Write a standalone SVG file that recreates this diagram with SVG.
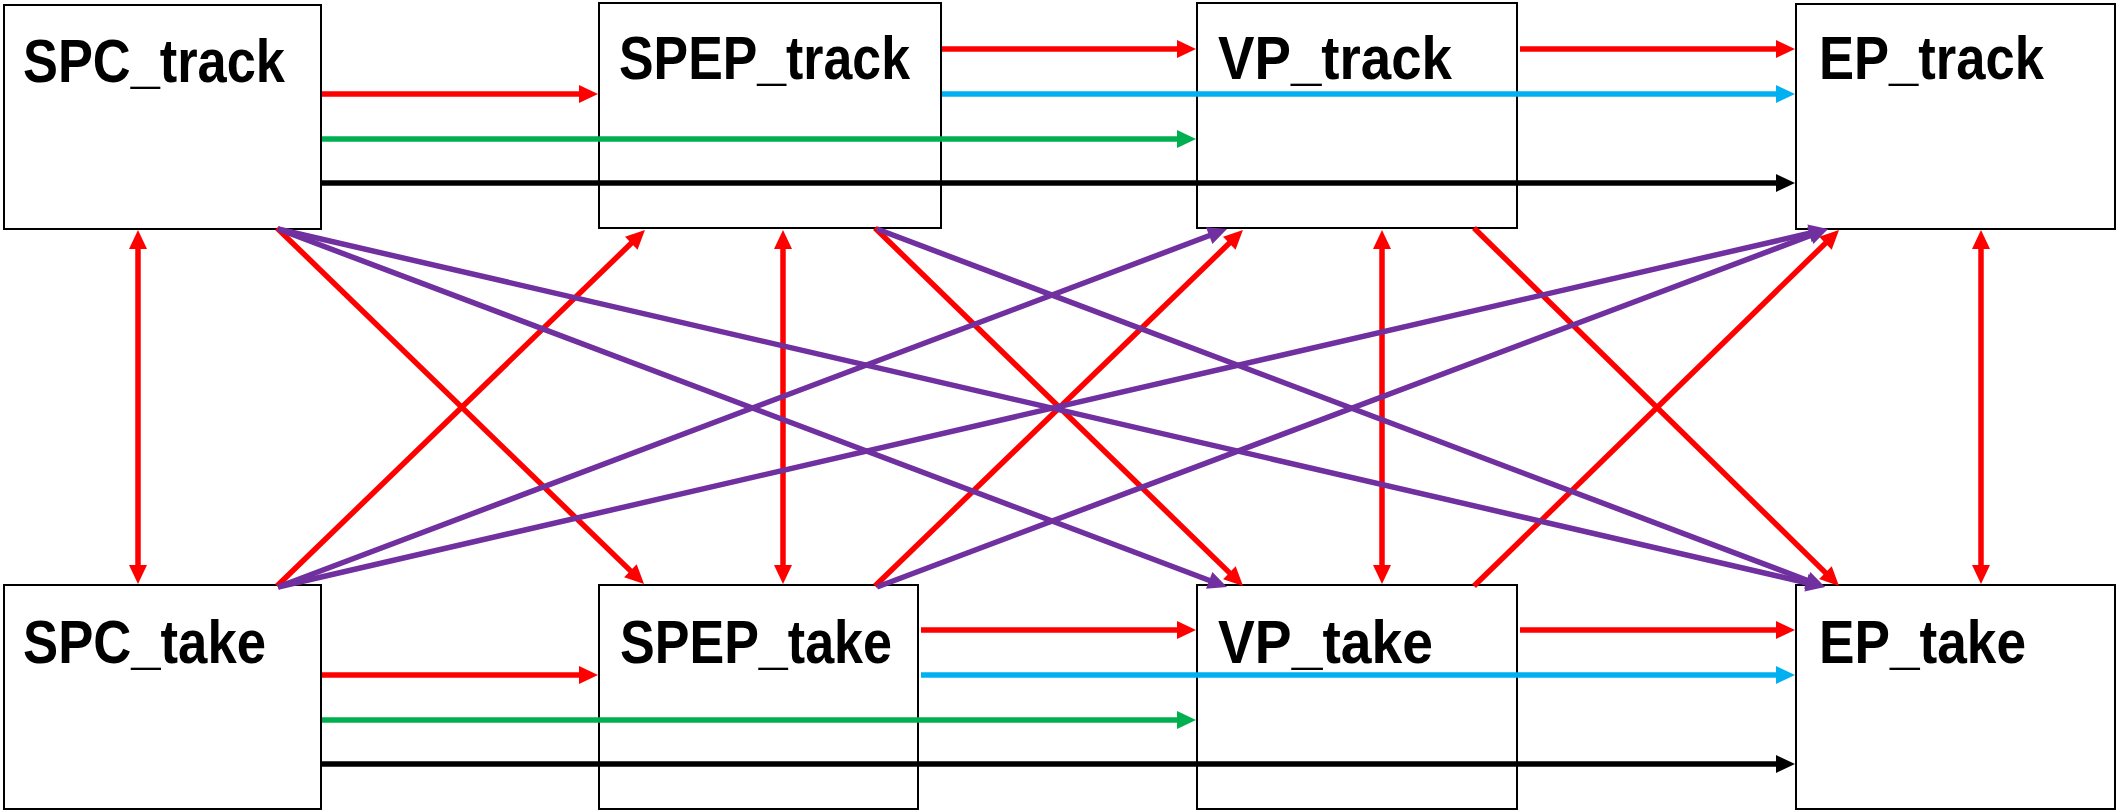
<svg xmlns="http://www.w3.org/2000/svg" width="2117" height="812" viewBox="0 0 2117 812">
  <style>
    .box { fill: #ffffff; stroke: #000000; stroke-width: 2; }
    .lbl { font-family: "Liberation Sans", Arial, sans-serif; font-weight: bold; font-size: 62px; fill: #000000; }
    .c { fill: none; stroke-width: 5.5; }
    .red { stroke: #ff0000; marker-end: url(#ah-red); }
    .redd { stroke: #ff0000; marker-start: url(#ah-red); marker-end: url(#ah-red); }
    .green { stroke: #00b050; marker-end: url(#ah-green); }
    .blue { stroke: #00b0f0; marker-end: url(#ah-blue); }
    .black { stroke: #000000; marker-end: url(#ah-black); }
    .purple { stroke: #7030a0; marker-end: url(#ah-purple); }
  </style>
  <defs>
    <marker id="ah-red" markerUnits="userSpaceOnUse" markerWidth="19" markerHeight="18" refX="11" refY="9" orient="auto-start-reverse" overflow="visible">
      <path d="M0,0 L19,9 L0,18 Z" fill="#ff0000"/>
    </marker>
    <marker id="ah-green" markerUnits="userSpaceOnUse" markerWidth="19" markerHeight="18" refX="11" refY="9" orient="auto" overflow="visible">
      <path d="M0,0 L19,9 L0,18 Z" fill="#00b050"/>
    </marker>
    <marker id="ah-blue" markerUnits="userSpaceOnUse" markerWidth="19" markerHeight="18" refX="11" refY="9" orient="auto" overflow="visible">
      <path d="M0,0 L19,9 L0,18 Z" fill="#00b0f0"/>
    </marker>
    <marker id="ah-black" markerUnits="userSpaceOnUse" markerWidth="19" markerHeight="18" refX="11" refY="9" orient="auto" overflow="visible">
      <path d="M0,0 L19,9 L0,18 Z" fill="#000000"/>
    </marker>
    <marker id="ah-purple" markerUnits="userSpaceOnUse" markerWidth="19" markerHeight="18" refX="11" refY="9" orient="auto" overflow="visible">
      <path d="M0,0 L19,9 L0,18 Z" fill="#7030a0"/>
    </marker>
  </defs>

  <rect width="2117" height="812" fill="#ffffff"/>

  <!-- top row: tracking stages -->
  <g id="spc_track">
    <rect class="box" x="4" y="5" width="317" height="224"/>
    <text class="lbl" x="23" y="82" textLength="262" lengthAdjust="spacingAndGlyphs">SPC_track</text>
  </g>
  <g id="spep_track">
    <rect class="box" x="599" y="3" width="342" height="225"/>
    <text class="lbl" x="619" y="79" textLength="291" lengthAdjust="spacingAndGlyphs">SPEP_track</text>
  </g>
  <g id="vp_track">
    <rect class="box" x="1197" y="3" width="320" height="225"/>
    <text class="lbl" x="1218" y="79" textLength="234" lengthAdjust="spacingAndGlyphs">VP_track</text>
  </g>
  <g id="ep_track">
    <rect class="box" x="1796" y="4" width="319" height="225"/>
    <text class="lbl" x="1819" y="79" textLength="225" lengthAdjust="spacingAndGlyphs">EP_track</text>
  </g>

  <!-- bottom row: take stages -->
  <g id="spc_take">
    <rect class="box" x="4" y="585" width="317" height="224"/>
    <text class="lbl" x="23" y="663" textLength="243" lengthAdjust="spacingAndGlyphs">SPC_take</text>
  </g>
  <g id="spep_take">
    <rect class="box" x="599" y="585" width="319" height="224"/>
    <text class="lbl" x="620" y="663" textLength="272" lengthAdjust="spacingAndGlyphs">SPEP_take</text>
  </g>
  <g id="vp_take">
    <rect class="box" x="1197" y="585" width="320" height="224"/>
    <text class="lbl" x="1218" y="663" textLength="215" lengthAdjust="spacingAndGlyphs">VP_take</text>
  </g>
  <g id="ep_take">
    <rect class="box" x="1796" y="585" width="319" height="224"/>
    <text class="lbl" x="1819" y="663" textLength="207" lengthAdjust="spacingAndGlyphs">EP_take</text>
  </g>

  <g id="connectors">
    <!-- top row, left to right -->
    <line class="c red" x1="322" y1="94" x2="590" y2="94"/>
    <line class="c green" x1="322" y1="139" x2="1188" y2="139"/>
    <line class="c black" x1="322" y1="183" x2="1787" y2="183"/>
    <line class="c red" x1="942" y1="49" x2="1188" y2="49"/>
    <line class="c blue" x1="942" y1="94" x2="1787" y2="94"/>
    <line class="c red" x1="1520" y1="49" x2="1787" y2="49"/>

    <!-- bottom row, left to right -->
    <line class="c red" x1="322" y1="675" x2="590" y2="675"/>
    <line class="c green" x1="322" y1="720" x2="1188" y2="720"/>
    <line class="c black" x1="322" y1="764" x2="1787" y2="764"/>
    <line class="c red" x1="921" y1="630" x2="1188" y2="630"/>
    <line class="c blue" x1="921" y1="675" x2="1787" y2="675"/>
    <line class="c red" x1="1520" y1="630" x2="1787" y2="630"/>

    <!-- vertical track/take links -->
    <line class="c redd" x1="138" y1="238" x2="138" y2="576"/>
    <line class="c redd" x1="783" y1="238" x2="783" y2="576"/>
    <line class="c redd" x1="1382" y1="238" x2="1382" y2="576"/>
    <line class="c redd" x1="1981" y1="238" x2="1981" y2="576"/>

    <!-- red diagonals to the neighbouring stage -->
    <line class="c red" x1="277" y1="228" x2="638.3" y2="578.4"/>
    <line class="c red" x1="277" y1="586" x2="639.2" y2="235.6"/>
    <line class="c red" x1="875" y1="228" x2="1237.3" y2="580.4"/>
    <line class="c red" x1="875" y1="586" x2="1237.2" y2="235.6"/>
    <line class="c red" x1="1474" y1="228" x2="1833.3" y2="580.4"/>
    <line class="c red" x1="1474" y1="586" x2="1833.3" y2="235.6"/>

    <!-- purple diagonals skipping stages -->
    <line class="c purple" x1="278" y1="229" x2="1219.5" y2="584.2"/>
    <line class="c purple" x1="278" y1="229" x2="1817.2" y2="585.2"/>
    <line class="c purple" x1="278" y1="587" x2="1219.5" y2="231.8"/>
    <line class="c purple" x1="278" y1="587" x2="1820.2" y2="230.8"/>
    <line class="c purple" x1="877" y1="229" x2="1817.5" y2="584.2"/>
    <line class="c purple" x1="877" y1="587" x2="1820.5" y2="231.8"/>
  </g>
</svg>
